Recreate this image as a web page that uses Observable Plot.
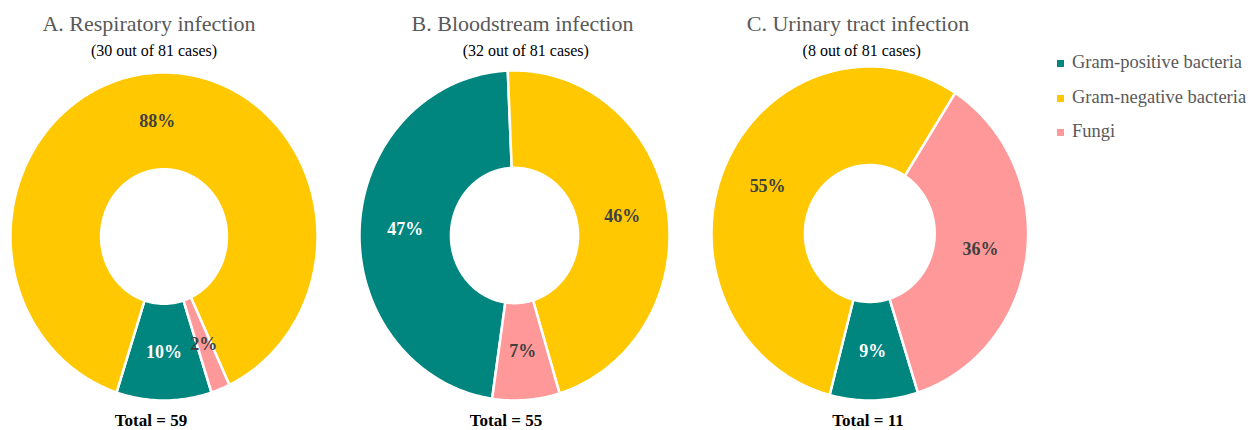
<!DOCTYPE html>
<html><head><meta charset="utf-8">
<script src="https://cdn.jsdelivr.net/npm/d3@7"></script>
<script src="https://cdn.jsdelivr.net/npm/@observablehq/plot@0.6"></script>
<style>
body{margin:0;background:#fff;}
#root{position:relative;width:1254px;height:430px;font-family:"Liberation Serif",serif;overflow:hidden}
.abs{position:absolute;white-space:nowrap;text-align:center;width:400px;font-family:"Liberation Serif",serif}
.title{font-size:22px;line-height:22px;color:#595959}
.sub{font-size:16px;line-height:16px;color:#000}
.total{font-size:17px;line-height:17px;font-weight:bold;color:#000}
.leg{position:absolute;font-family:"Liberation Serif",serif;font-size:18.5px;line-height:18px;color:#595959;white-space:nowrap}
.sw{position:absolute;width:7px;height:7px}
.plot{position:absolute}
</style></head><body><div id="root"></div>
<script>
// ---- data ----
const titles = ["A. Respiratory infection", "B. Bloodstream infection", "C. Urinary tract infection"];
const cases = [30, 32, 8];
const totalCases = 81;
const totals = [59, 55, 11];
const categories = ["Gram-positive bacteria", "Gram-negative bacteria", "Fungi"];
const percentA = [10, 88, 2];
const percentB = [47, 46, 7];
const percentC = [9, 55, 36];
const percents = [percentA, percentB, percentC];

// ---- styles / layout ----
const colors = ["#00857F", "#FFC800", "#FF9999"];
const font = "Liberation Serif, serif";
const innerRatio = 0.41;
const layout = [
  {cx: 163.5, cy: 236, rx: 153.5, ry: 164, start: 162,   tx: 149,   sx: 154,   totx: 151},
  {cx: 514.3, cy: 235, rx: 155,   ry: 165, start: 188.3, tx: 522.5, sx: 525.8, totx: 506},
  {cx: 869,   cy: 233, rx: 158.3, ry: 167, start: 162.3, tx: 858,   sx: 861.7, totx: 868}
];
const pad = 4;
const root = document.getElementById("root");

function addText(cls, text, cx, top) {
  const d = document.createElement("div");
  d.className = "abs " + cls;
  d.textContent = text;
  d.style.left = (cx - 200) + "px";
  d.style.top = top + "px";
  root.appendChild(d);
}

percents.forEach((vals, p) => {
  const L = layout[p];
  const a0 = L.start * Math.PI / 180;
  const arcs = d3.pie().sort(null).startAngle(a0).endAngle(a0 + 2 * Math.PI)(vals);
  const pts = [];
  const labels = [];
  arcs.forEach((arc, i) => {
    const n = Math.max(2, Math.ceil((arc.endAngle - arc.startAngle) * 180 / Math.PI));
    const ring = [];
    for (let k = 0; k <= n; k++) {
      const t = arc.startAngle + (arc.endAngle - arc.startAngle) * k / n;
      ring.push([Math.sin(t), Math.cos(t)]);
    }
    for (let k = n; k >= 0; k--) {
      const t = arc.startAngle + (arc.endAngle - arc.startAngle) * k / n;
      ring.push([innerRatio * Math.sin(t), innerRatio * Math.cos(t)]);
    }
    ring.push(ring[0]);
    ring.forEach(([x, y]) => pts.push({cat: categories[i], x, y}));
    const m = (arc.startAngle + arc.endAngle) / 2, rm = (1 + innerRatio) / 2;
    labels.push({cat: categories[i], x: rm * Math.sin(m), y: rm * Math.cos(m), text: vals[i] + "%"});
  });
  const W = 2 * L.rx + 2 * pad, H = 2 * L.ry + 2 * pad;
  const chart = Plot.plot({
    width: W, height: H, margin: 0,
    style: {background: "transparent", overflow: "visible"},
    x: {domain: [-1, 1], range: [pad, pad + 2 * L.rx], axis: null},
    y: {domain: [-1, 1], range: [pad + 2 * L.ry, pad], axis: null},
    color: {domain: categories, range: colors},
    marks: [
      Plot.line(pts, {x: "x", y: "y", z: "cat", fill: "cat", stroke: "white", strokeWidth: 2.5, strokeLinejoin: "round", curve: "linear"}),
      Plot.text(labels.filter(d => d.cat === categories[0]), {x: "x", y: "y", text: "text", fill: "white", fontSize: 18, fontWeight: "bold", fontFamily: font}),
      Plot.text(labels.filter(d => d.cat !== categories[0]), {x: "x", y: "y", text: "text", fill: "#404040", fontSize: 18, fontWeight: "bold", fontFamily: font})
    ]
  });
  chart.classList.add("plot");
  chart.style.left = (L.cx - L.rx - pad) + "px";
  chart.style.top = (L.cy - L.ry - pad) + "px";
  root.appendChild(chart);

  addText("title", titles[p], L.tx, 13);
  addText("sub", `(${cases[p]} out of ${totalCases} cases)`, L.sx, 42.5);
  addText("total", `Total = ${totals[p]}`, L.totx, 412);
});

// legend
const legTops = [53.2, 88.2, 121.6];
categories.forEach((c, i) => {
  const s = document.createElement("div");
  s.className = "sw";
  s.style.background = colors[i];
  s.style.left = "1057px";
  s.style.top = (legTops[i] + 7) + "px";
  root.appendChild(s);
  const t = document.createElement("div");
  t.className = "leg";
  t.textContent = c;
  t.style.left = "1072px";
  t.style.top = legTops[i] + "px";
  root.appendChild(t);
});
</script>
</body></html>
